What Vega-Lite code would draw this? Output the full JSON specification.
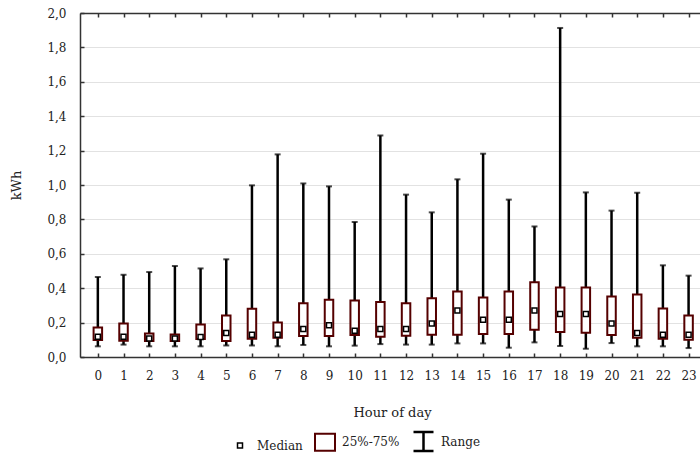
{
  "$schema": "https://vega.github.io/schema/vega-lite/v6.json",
  "autosize": "none",
  "width": 620,
  "height": 344,
  "padding": {"left": 80, "top": 13, "right": 0, "bottom": 96},
  "background": "white",
  "data": {"values": [
    {"hour": 0, "min": 0.062, "q1": 0.099, "median": 0.118, "q3": 0.172, "max": 0.465},
    {"hour": 1, "min": 0.072, "q1": 0.095, "median": 0.118, "q3": 0.195, "max": 0.478},
    {"hour": 2, "min": 0.062, "q1": 0.093, "median": 0.108, "q3": 0.137, "max": 0.494},
    {"hour": 3, "min": 0.062, "q1": 0.093, "median": 0.108, "q3": 0.131, "max": 0.529},
    {"hour": 4, "min": 0.062, "q1": 0.105, "median": 0.116, "q3": 0.189, "max": 0.515},
    {"hour": 5, "min": 0.067, "q1": 0.093, "median": 0.14, "q3": 0.242, "max": 0.568},
    {"hour": 6, "min": 0.067, "q1": 0.106, "median": 0.13, "q3": 0.281, "max": 0.998},
    {"hour": 7, "min": 0.062, "q1": 0.112, "median": 0.13, "q3": 0.201, "max": 1.178},
    {"hour": 8, "min": 0.07, "q1": 0.122, "median": 0.163, "q3": 0.312, "max": 1.009},
    {"hour": 9, "min": 0.062, "q1": 0.122, "median": 0.184, "q3": 0.333, "max": 0.992},
    {"hour": 10, "min": 0.066, "q1": 0.128, "median": 0.153, "q3": 0.329, "max": 0.785},
    {"hour": 11, "min": 0.075, "q1": 0.118, "median": 0.163, "q3": 0.32, "max": 1.288},
    {"hour": 12, "min": 0.072, "q1": 0.124, "median": 0.163, "q3": 0.312, "max": 0.944},
    {"hour": 13, "min": 0.072, "q1": 0.13, "median": 0.195, "q3": 0.341, "max": 0.841},
    {"hour": 14, "min": 0.079, "q1": 0.13, "median": 0.271, "q3": 0.381, "max": 1.033},
    {"hour": 15, "min": 0.079, "q1": 0.134, "median": 0.217, "q3": 0.346, "max": 1.182},
    {"hour": 16, "min": 0.054, "q1": 0.134, "median": 0.217, "q3": 0.381, "max": 0.915},
    {"hour": 17, "min": 0.085, "q1": 0.159, "median": 0.271, "q3": 0.434, "max": 0.759},
    {"hour": 18, "min": 0.064, "q1": 0.146, "median": 0.25, "q3": 0.404, "max": 1.913},
    {"hour": 19, "min": 0.048, "q1": 0.141, "median": 0.25, "q3": 0.404, "max": 0.957},
    {"hour": 20, "min": 0.081, "q1": 0.128, "median": 0.195, "q3": 0.352, "max": 0.851},
    {"hour": 21, "min": 0.062, "q1": 0.112, "median": 0.14, "q3": 0.364, "max": 0.955},
    {"hour": 22, "min": 0.062, "q1": 0.106, "median": 0.13, "q3": 0.282, "max": 0.533},
    {"hour": 23, "min": 0.052, "q1": 0.101, "median": 0.13, "q3": 0.242, "max": 0.473}
  ]},
  "layer": [
    {
      "mark": {"type": "rule"},
      "encoding": {
        "x": {"field": "hour", "type": "quantitative",
              "scale": {"domain": [-0.5, 23.25], "nice": false, "zero": false},
              "axis": {"orient": "bottom", "title": "Hour of day", "values": [0,1,2,3,4,5,6,7,8,9,10,11,12,13,14,15,16,17,18,19,20,21,22,23],
                       "titleX": 312, "titleY": 55, "titleBaseline": "middle", "labelPadding": 17}},
        "y": {"field": "min", "type": "quantitative", "title": "kWh"},
        "y2": {"field": "max"},
        "stroke": {"datum": "Range", "type": "nominal",
                   "scale": {"domain": ["Median", "25%-75%", "Range"], "range": ["#000000", "#550000", "#000000"]},
                   "legend": {"title": null, "orient": "none", "direction": "horizontal", "legendX": 149, "legendY": 417,
                              "symbolSize": 400, "labelOffset": 6, "columnPadding": 8, "symbolFillColor": "white",
                              "labelFont": "DejaVu Serif", "labelFontSize": 12, "labelColor": "#222222"}},
        "strokeWidth": {"datum": "Range", "type": "nominal",
                        "scale": {"domain": ["Median", "25%-75%", "Range"], "range": [1.5, 2.5, 2]},
                        "legend": {"title": null, "orient": "none", "direction": "horizontal", "legendX": 149, "legendY": 417,
                              "symbolSize": 400, "labelOffset": 6, "columnPadding": 8, "symbolFillColor": "white",
                              "labelFont": "DejaVu Serif", "labelFontSize": 12, "labelColor": "#222222"}}
      }
    },
    {
      "mark": {"type": "tick", "orient": "horizontal", "size": 6, "thickness": 2, "color": "#000000"},
      "encoding": {
        "x": {"field": "hour", "type": "quantitative",
              "axis": {"orient": "top", "title": null, "labels": false, "grid": false,
                       "values": [0,1,2,3,4,5,6,7,8,9,10,11,12,13,14,15,16,17,18,19,20,21,22,23]}},
        "y": {"field": "max", "type": "quantitative", "title": "kWh"}
      }
    },
    {
      "mark": {"type": "tick", "orient": "horizontal", "size": 6, "thickness": 2, "color": "#000000"},
      "encoding": {
        "x": {"field": "hour", "type": "quantitative", "axis": null},
        "y": {"field": "min", "type": "quantitative", "title": "kWh"}
      }
    },
    {
      "mark": {"type": "bar", "width": 8.5, "fill": "white"},
      "encoding": {
        "x": {"field": "hour", "type": "quantitative", "axis": null},
        "y": {"field": "q1", "type": "quantitative", "title": "kWh"},
        "y2": {"field": "q3"},
        "stroke": {"datum": "25%-75%", "type": "nominal"},
        "strokeWidth": {"datum": "25%-75%", "type": "nominal"}
      }
    },
    {
      "mark": {"type": "point", "filled": false, "fill": "white", "fillOpacity": 1, "opacity": 1, "size": 400},
      "encoding": {
        "x": {"field": "hour", "type": "quantitative", "axis": null},
        "y": {"field": "median", "type": "quantitative", "title": "kWh"},
        "stroke": {"datum": "Median", "type": "nominal"},
        "strokeWidth": {"datum": "Median", "type": "nominal"},
        "shape": {"datum": "Median", "type": "nominal",
                  "scale": {"domain": ["Median", "25%-75%", "Range"],
                            "range": ["M-0.25,-0.25H0.25V0.25H-0.25Z", "M-1,-0.85H1V0.85H-1Z", "M-1,-0.95H1M0,-0.95V0.95M-1,0.95H1"]},
                  "legend": {"title": null, "orient": "none", "direction": "horizontal", "legendX": 149, "legendY": 417,
                              "symbolSize": 400, "labelOffset": 6, "columnPadding": 8, "symbolFillColor": "white",
                              "labelFont": "DejaVu Serif", "labelFontSize": 12, "labelColor": "#222222"}}
      }
    }
  ],
  "resolve": {"axis": {"x": "independent"}},
  "config": {
    "view": {"stroke": null},
    "axis": {
      "domainColor": "#333333", "domainWidth": 1.5,
      "tickColor": "#333333", "tickWidth": 1.5, "tickSize": -4,
      "labelFont": "DejaVu Serif", "labelFontSize": 12, "labelColor": "#222222",
      "titleFont": "DejaVu Serif", "titleFontSize": 13, "titleFontWeight": "normal", "titleColor": "#222222",
      "gridColor": "#e2e2e2", "gridWidth": 1
    },
    "axisX": {"grid": false},
    "axisY": {
      "grid": true,
      "values": [0, 0.2, 0.4, 0.6, 0.8, 1.0, 1.2, 1.4, 1.6, 1.8, 2.0],
      "labelExpr": "replace(format(datum.value, '.1f'), '.', ',')",
      "labelPadding": 18,
      "titleX": -64, "titleY": 172, "titleBaseline": "middle"
    }
  }
}
